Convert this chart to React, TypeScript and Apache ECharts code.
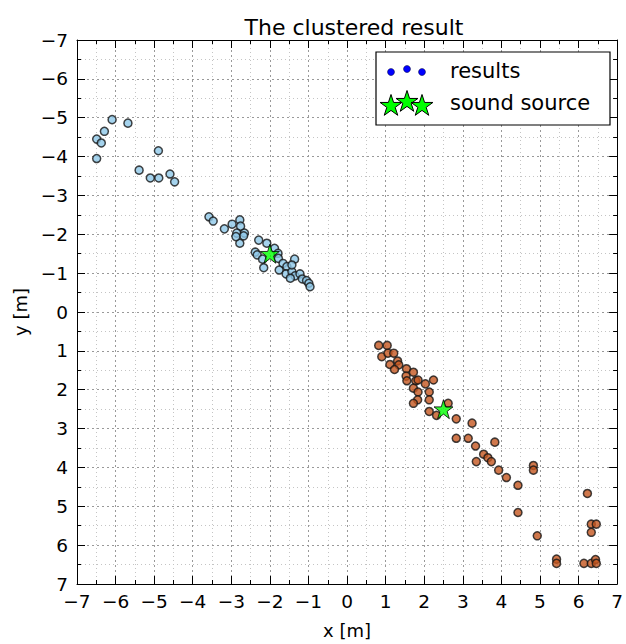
import React, { useEffect, useRef } from "react";
import * as echarts from "echarts";

const cluster1X = [-6.09, -5.68, -6.29, -6.49, -6.37, -6.49, -4.89, -5.39, -5.10, -4.88, -4.59, -4.47,
  -3.58, -3.47, -3.18, -2.98, -2.78, -2.76, -2.86, -2.66, -2.78, -2.68, -2.88, -2.29, -2.08, -1.88, -2.38, -2.33,
  -2.19, -2.16, -1.79, -1.78, -1.66, -1.76, -1.56, -1.58, -1.43, -1.36, -1.43, -1.35, -1.22, -1.16, -1.05,
  -0.99, -0.96, -1.47];
const cluster1Y = [-4.95, -4.86, -4.65, -4.45, -4.35, -3.95, -4.15, -3.65, -3.45, -3.45, -3.55, -3.35,
  -2.45, -2.34, -2.14, -2.26, -2.37, -2.21, -2.03, -2.03, -1.77, -1.96, -1.94, -1.85, -1.77, -1.64, -1.54, -1.47,
  -1.36, -1.14, -1.51, -1.38, -1.25, -1.08, -1.17, -0.98, -1.04, -1.36, -1.21, -0.93, -0.98, -0.85, -0.81,
  -0.74, -0.65, -0.87];

const cluster2X = [0.82, 1.04, 0.90, 1.06, 1.21, 1.11, 1.31, 1.34, 1.23, 1.54, 1.72, 1.53, 1.55, 1.78, 1.84,
  2.03, 2.24, 1.72, 1.84, 2.13, 1.83, 2.13, 1.72, 2.13, 2.32, 2.62, 2.83, 3.24, 2.83, 3.14, 3.33, 3.83, 3.54,
  3.65, 3.74, 3.35, 3.93, 4.13, 4.43, 4.83, 4.83, 4.43, 4.93, 5.43, 5.43, 6.23, 6.33, 6.46, 6.33, 6.14, 6.33,
  6.44, 6.46];
const cluster2Y = [0.86, 0.86, 1.15, 1.06, 1.06, 1.35, 1.26, 1.36, 1.48, 1.46, 1.55, 1.65, 1.77, 1.77, 1.75,
  1.85, 1.75, 1.96, 2.06, 2.06, 2.26, 2.26, 2.35, 2.56, 2.66, 2.35, 2.75, 2.86, 3.25, 3.25, 3.45, 3.35, 3.66,
  3.75, 3.85, 3.85, 4.07, 4.26, 4.46, 3.95, 4.07, 5.16, 5.76, 6.36, 6.47, 4.67, 5.46, 5.46, 5.67, 6.47, 6.47,
  6.37, 6.47];

const sourceX = [-2.0, 2.5];
const sourceY = [-1.5, 2.5];

const axisMin = -7;
const axisMax = 7;
const axisInterval = 1;

const titleText = "The clustered result";
const xName = "x [m]";
const yName = "y [m]";
const legendLabels = ["results", "sound source"];

const STAR_PATH =
  "path://M50,0 L61.2,34.5 L97.6,34.5 L68.2,55.9 L79.4,90.5 L50,69.1 L20.6,90.5 L31.8,55.9 L2.4,34.5 L38.8,34.5 Z";

function starPoints(cx: number, cy: number, r: number): number[][] {
  const pts: number[][] = [];
  const ri = r * 0.382;
  for (let i = 0; i < 10; i++) {
    const a = -Math.PI / 2 + (i * Math.PI) / 5;
    const rr = i % 2 === 0 ? r : ri;
    pts.push([cx + rr * Math.cos(a), cy + rr * Math.sin(a)]);
  }
  return pts;
}

const fmt = (v: number) => (v < 0 ? "\u2212" + Math.abs(v) : String(v));

export default function App() {
  const ref = useRef<HTMLDivElement>(null);
  useEffect(() => {
    document.body.style.margin = "0";
    document.body.style.overflow = "hidden";
    if (!ref.current) return;
    const chart = echarts.init(ref.current, null, { renderer: "svg" });
    const font = "DejaVu Sans";
    const gridLeft = 77, gridTop = 40, gridRight = 5, gridBottom = 60;

    const labelStyle = {
      color: "#000",
      fontSize: 18.5,
      fontFamily: font,
      formatter: fmt,
    };

    const baseAxis = (showLabel: boolean) => ({
      type: "value" as const,
      min: axisMin,
      max: axisMax,
      interval: axisInterval,
      minorTick: { show: true, splitNumber: 2, length: 4, lineStyle: { color: "#000" } },
      axisTick: { inside: true, length: 8, lineStyle: { color: "#000" } },
      axisLine: { show: true, onZero: false, lineStyle: { color: "#000", width: 1 } },
      axisLabel: { show: showLabel, ...labelStyle },
    });

    const c1 = cluster1X.map((x, i) => [x, cluster1Y[i]]);
    const c2 = cluster2X.map((x, i) => [x, cluster2Y[i]]);
    const src = sourceX.map((x, i) => [x, sourceY[i]]);

    const legendX = 376, legendY = 52, legendW = 234, legendH = 73;
    const dotColor = "#0000ff";
    const stars = [
      [391, 106],
      [407, 102],
      [422, 106],
    ].map(([cx, cy]) => ({
      type: "polygon",
      shape: { points: starPoints(cx, cy, 11.5) },
      style: { fill: "#00ff00", stroke: "#000", lineWidth: 1 },
    }));
    const dots = [
      [391, 72],
      [407, 69],
      [422, 72],
    ].map(([cx, cy]) => ({
      type: "circle",
      shape: { cx, cy, r: 3.5 },
      style: { fill: dotColor, stroke: "#000033", lineWidth: 0.5 },
    }));

    const majorGrid = { show: true, lineStyle: { color: "#999999", type: [2, 3], width: 1 } };
    const minorGrid = { show: true, lineStyle: { color: "#c4c4c4", type: [1, 3], width: 1 } };

    chart.setOption({
      animation: false,
      backgroundColor: "#fff",
      title: {
        text: titleText,
        left: gridLeft + (626 - gridLeft - gridRight) / 2,
        textAlign: "center",
        top: 11,
        textStyle: { fontFamily: font, fontSize: 22, fontWeight: "normal", color: "#000" },
      },
      grid: { left: gridLeft, right: gridRight, top: gridTop, bottom: gridBottom, containLabel: false },
      xAxis: [
        {
          ...baseAxis(true),
          position: "bottom",
          name: xName,
          nameLocation: "middle",
          nameGap: 37,
          nameTextStyle: { fontFamily: font, fontSize: 18, color: "#000" },
          axisLabel: { show: true, ...labelStyle, margin: 8 },
          splitLine: majorGrid,
          minorSplitLine: minorGrid,
        },
        {
          ...baseAxis(false),
          position: "top",
          splitLine: { show: false },
        },
      ],
      yAxis: [
        {
          ...baseAxis(true),
          inverse: true,
          position: "left",
          name: yName,
          nameLocation: "middle",
          nameGap: 46,
          nameRotate: 90,
          nameTextStyle: { fontFamily: font, fontSize: 18, color: "#000" },
          axisLabel: { show: true, ...labelStyle, margin: 9 },
          splitLine: majorGrid,
          minorSplitLine: minorGrid,
        },
        {
          ...baseAxis(false),
          inverse: true,
          position: "right",
          splitLine: { show: false },
        },
      ],
      series: [
        {
          name: "cluster 1",
          type: "scatter",
          data: c1,
          symbol: "circle",
          symbolSize: 8,
          itemStyle: { color: "#8ec8e8", borderColor: "#151515", borderWidth: 1.5 },
          z: 3,
        },
        {
          name: "cluster 2",
          type: "scatter",
          data: c2,
          symbol: "circle",
          symbolSize: 8,
          itemStyle: { color: "#c4561f", borderColor: "#151515", borderWidth: 1.5 },
          z: 3,
        },
        {
          name: legendLabels[1],
          type: "scatter",
          data: src,
          symbol: STAR_PATH,
          symbolSize: 19,
          itemStyle: { color: "#00ff00", borderColor: "#000", borderWidth: 1 },
          z: 5,
        },
      ],
      graphic: [
        {
          type: "rect",
          shape: { x: legendX, y: legendY, width: legendW, height: legendH },
          style: { fill: "#fff", stroke: "#000", lineWidth: 1.2 },
          z: 10,
        },
        ...dots.map((d) => ({ ...d, z: 11 })),
        ...stars.map((s) => ({ ...s, z: 11 })),
        {
          type: "text",
          x: 450,
          y: 71,
          style: {
            text: legendLabels[0],
            font: `21px "${font}"`,
            fill: "#000",
            verticalAlign: "middle",
          },
          z: 11,
        },
        {
          type: "text",
          x: 450,
          y: 103,
          style: {
            text: legendLabels[1],
            font: `21px "${font}"`,
            fill: "#000",
            verticalAlign: "middle",
          },
          z: 11,
        },
      ],
    });
    return () => chart.dispose();
  }, []);
  return <div ref={ref} style={{ width: 626, height: 644 }} />;
}
